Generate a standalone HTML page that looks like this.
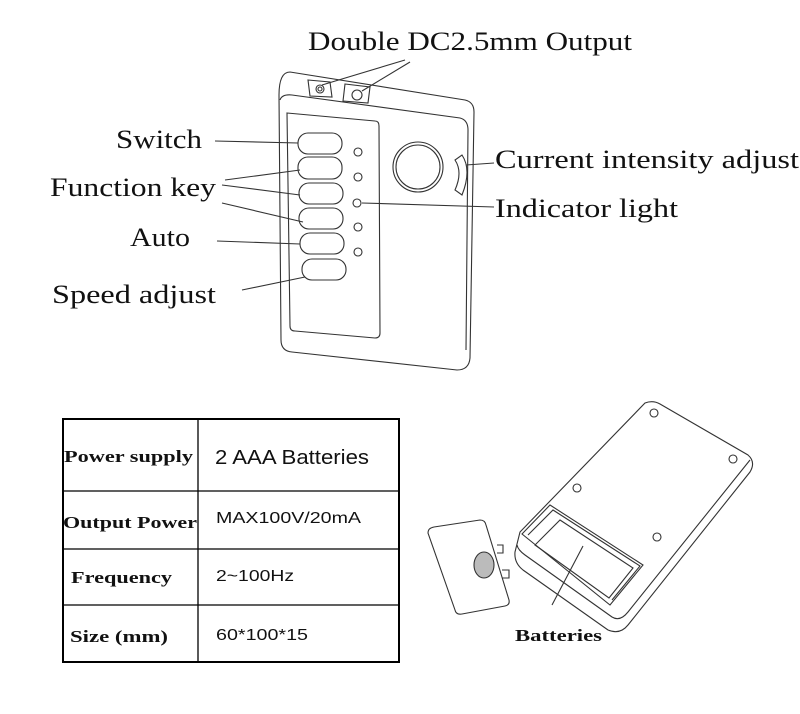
<!DOCTYPE html>
<html><head><meta charset="utf-8"><style>
body{margin:0;background:#fff;}
svg{display:block}
.t{font-family:"Liberation Serif",serif;fill:#111}
.s{font-family:"Liberation Sans",sans-serif;fill:#111}
</style></head><body>
<svg width="800" height="714" viewBox="0 0 800 714" xmlns="http://www.w3.org/2000/svg">
<g fill="none" stroke="#333" stroke-width="1.1">
<path d="M290 72 L465 100 Q474 102 474 112 L470 358 Q469 370 457 370 L292 352 Q281 351 281 340 L279 95 Q279 72 290 72Z"/>
<path d="M280 100 Q282 94 292 95 L460 118 Q468 120 468 130 L466 350"/>
<path d="M287 113 L375 121 Q379 121 379 126 L380 333 Q380 338 375 338 L295 331 Q290 331 290 326 Z"/>
<path d="M308 80 L330 82 L332 97 L310 96 Z"/>
<circle cx="320" cy="89" r="4"/><circle cx="320" cy="89" r="2"/>
<path d="M345 84 L370 87 L368 103 L343 101 Z"/>
<circle cx="357" cy="95" r="5"/>
<rect x="298" y="133" width="44" height="21" rx="10"/>
<rect x="298" y="157" width="44" height="22" rx="10"/>
<rect x="299" y="183" width="44" height="21" rx="10"/>
<rect x="299" y="208" width="44" height="21" rx="10"/>
<rect x="300" y="233" width="44" height="21" rx="10"/>
<rect x="302" y="259" width="44" height="21" rx="10"/>
<circle cx="358" cy="152" r="4"/><circle cx="358" cy="177" r="4"/><circle cx="357" cy="203" r="4"/><circle cx="358" cy="227" r="4"/><circle cx="358" cy="252" r="4"/>
<circle cx="418" cy="167" r="25"/><circle cx="418" cy="167" r="22"/>
<path d="M462 155 Q472 170 462 195 L455 190 Q463 172 455 160Z"/>
<path d="M215 141 L298 143"/>
<path d="M225 180 L300 170"/>
<path d="M222 185 L300 195"/>
<path d="M222 203 L303 222"/>
<path d="M217 241 L300 244"/>
<path d="M242 290 L305 277"/>
<path d="M405 60 L322 85"/>
<path d="M410 62 L362 91"/>
<path d="M494 163 L466 165"/>
<path d="M494 207 L362 203"/>
<rect x="63" y="419" width="336" height="243" stroke="#000" stroke-width="2"/>
<path d="M63 491 H399 M63 549 H399 M63 605 H399 M198 419 V662" stroke="#000" stroke-width="1.3"/>
<path d="M645 403 Q653 400 660 404 L748 455 Q756 462 750 472 L628 625 Q620 635 608 630 L523 570 Q514 563 515 552 L520 532 Z"/>
<path d="M517 545 Q518 550 525 555 L612 617 Q620 622 628 612 L750 460"/>
<path d="M522 534 L550 505 L643 565 L610 605 Z"/>
<path d="M528 535 L553 510 L640 566 L612 600"/>
<path d="M560 520 L633 568 L609 598 L535 545 Z"/>
<circle cx="654" cy="413" r="4"/><circle cx="733" cy="459" r="4"/><circle cx="577" cy="488" r="4"/><circle cx="657" cy="537" r="4"/>
<path d="M583 546 L552 605"/>
<path d="M428 533 Q428 528 434 527 L480 520 Q485 520 486 525 L509 600 Q510 605 505 606 L462 614 Q456 615 455 610 Z"/>
<ellipse cx="484" cy="565" rx="10" ry="13" fill="#bbb"/>
<path d="M497 545 L503 545 L503 553 L497 553 M502 570 L509 570 L509 578 L502 578"/>
</g>
<g lengthAdjust="spacingAndGlyphs">
<text class="t" x="308" y="50" font-size="26" textLength="324" lengthAdjust="spacingAndGlyphs">Double DC2.5mm Output</text>
<text class="t" x="116" y="148" font-size="26" textLength="86" lengthAdjust="spacingAndGlyphs">Switch</text>
<text class="t" x="50" y="196" font-size="26" textLength="166" lengthAdjust="spacingAndGlyphs">Function key</text>
<text class="t" x="130" y="246" font-size="26" textLength="60" lengthAdjust="spacingAndGlyphs">Auto</text>
<text class="t" x="52" y="303" font-size="26" textLength="164" lengthAdjust="spacingAndGlyphs">Speed adjust</text>
<text class="t" x="495" y="168" font-size="26" textLength="304" lengthAdjust="spacingAndGlyphs">Current intensity adjust</text>
<text class="t" x="495" y="217" font-size="26" textLength="183" lengthAdjust="spacingAndGlyphs">Indicator light</text>
<text class="t" x="64" y="462" font-size="17" font-weight="bold" textLength="129" lengthAdjust="spacingAndGlyphs">Power supply</text>
<text class="t" x="63" y="528" font-size="17" font-weight="bold" textLength="134" lengthAdjust="spacingAndGlyphs">Output Power</text>
<text class="t" x="71" y="583" font-size="17" font-weight="bold" textLength="101" lengthAdjust="spacingAndGlyphs">Frequency</text>
<text class="t" x="70" y="642" font-size="17" font-weight="bold" textLength="98" lengthAdjust="spacingAndGlyphs">Size (mm)</text>
<text class="s" x="215" y="464" font-size="20" textLength="154" lengthAdjust="spacingAndGlyphs">2 AAA Batteries</text>
<text class="s" x="216" y="523" font-size="16" textLength="145" lengthAdjust="spacingAndGlyphs">MAX100V/20mA</text>
<text class="s" x="216" y="581" font-size="16" textLength="78" lengthAdjust="spacingAndGlyphs">2~100Hz</text>
<text class="s" x="216" y="640" font-size="16" textLength="92" lengthAdjust="spacingAndGlyphs">60*100*15</text>
<text class="t" x="515" y="641" font-size="17" font-weight="bold" textLength="87" lengthAdjust="spacingAndGlyphs">Batteries</text>
</g>
</svg>
</body></html>
